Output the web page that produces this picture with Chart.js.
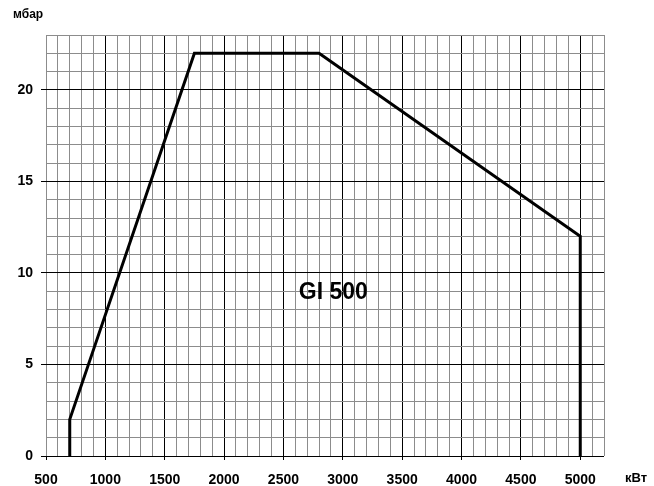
<!DOCTYPE html>
<html>
<head>
<meta charset="utf-8">
<script src="https://cdn.jsdelivr.net/npm/chart.js@4"></script>
<style>
  html, body { margin: 0; padding: 0; background: #fff; }
  #wrap { width: 654px; height: 486px; }
</style>
</head>
<body>
<div id="wrap"><canvas id="chart" width="654" height="486"></canvas></div>
<script>
// working range outline (kW vs mbar)
const powerKw = [700, 700, 1750, 2800, 5000, 5000];
const pressureMbar = [0, 2, 22, 22, 12, 0];
const modelLabel = 'GI 500';
const modelPos = [2920, 8.95];
const xUnit = 'кВт';
const yUnit = 'мбар';

const darkGrid = '#000';
const lightGrid = '#8c8c8c';
const tickFont = { family: 'Liberation Sans, Arial, sans-serif', size: 14, weight: 'bold' };

// draw the unit labels and model name
const labelsPlugin = {
    id: 'labels',
    afterDatasetsDraw(chart) {
        const ctx = chart.ctx;
        const xs = chart.scales.x, ys = chart.scales.y;
        ctx.save();
        ctx.fillStyle = '#000';
        ctx.textBaseline = 'alphabetic';
        ctx.textAlign = 'left';
        ctx.font = 'bold 12px Liberation Sans, Arial, sans-serif';
        ctx.fillText(yUnit, 13, 18);
        ctx.font = 'bold 13px Liberation Sans, Arial, sans-serif';
        ctx.fillText(xUnit, 625, 482);
        ctx.font = 'bold 23px Liberation Sans, Arial, sans-serif';
        ctx.textAlign = 'center';
        ctx.textBaseline = 'middle';
        ctx.fillText(modelLabel, xs.getPixelForValue(modelPos[0]), ys.getPixelForValue(modelPos[1]));
        ctx.restore();
    }
};

new Chart(document.getElementById('chart').getContext('2d'), {
    type: 'line',
    data: {
        datasets: [{
            data: powerKw.map((x, i) => ({ x: x, y: pressureMbar[i] })),
            borderColor: '#000',
            borderWidth: 3,
            pointRadius: 0,
            tension: 0,
            fill: false
        }]
    },
    options: {
        responsive: false,
        animation: false,
        devicePixelRatio: 1,
        layout: { padding: { top: 35, right: 50, left: 0, bottom: 0 } },
        plugins: { legend: { display: false }, tooltip: { enabled: false } },
        scales: {
            x: {
                type: 'linear',
                min: 500,
                max: 5200,
                afterFit(scale) { scale.height = 30; },
                border: { display: false },
                grid: {
                    color: c => (c.tick.value % 500 === 0 && c.tick.value > 500) ? darkGrid : lightGrid,
                    tickColor: c => (c.tick.value % 500 === 0) ? darkGrid : 'rgba(0,0,0,0)',
                    tickLength: 4,
                    lineWidth: 1
                },
                ticks: {
                    stepSize: 100,
                    autoSkip: false,
                    maxRotation: 0,
                    color: '#000',
                    font: tickFont,
                    padding: 12,
                    callback: v => (v % 500 === 0 && v <= 5000) ? String(v) : ''
                }
            },
            y: {
                type: 'linear',
                min: 0,
                max: 23,
                afterFit(scale) { scale.width = 46; },
                border: { display: false },
                grid: {
                    color: c => (c.tick.value % 5 === 0) ? darkGrid : lightGrid,
                    tickColor: c => (c.tick.value % 5 === 0) ? darkGrid : 'rgba(0,0,0,0)',
                    tickLength: 5,
                    lineWidth: 1
                },
                ticks: {
                    stepSize: 1,
                    autoSkip: false,
                    color: '#000',
                    font: tickFont,
                    padding: 8,
                    callback: v => (v % 5 === 0) ? String(v) : ''
                }
            }
        }
    },
    plugins: [labelsPlugin]
});
</script>
</body>
</html>
